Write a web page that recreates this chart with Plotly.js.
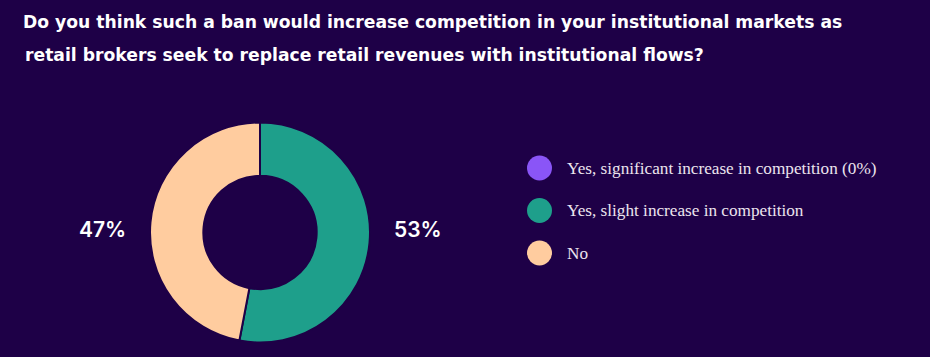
<!DOCTYPE html>
<html>
<head>
<meta charset="utf-8">
<script src="https://cdn.plot.ly/plotly-3.0.1.min.js"></script>
<style>html,body{margin:0;padding:0;background:#1e0047;}#chart{width:930px;height:357px;}</style>
</head>
<body>
<div id="chart"></div>
<script>
// ---- data ----
const titleLines = [
  "Do you think such a ban would increase competition in your institutional markets as",
  "retail brokers seek to replace retail revenues with institutional flows?"
];
const categories = [
  "Yes, significant increase in competition (0%)",
  "Yes, slight increase in competition",
  "No"
];
const values = [0, 53, 47];
const colors = ["#8a55f7", "#1e9f8b", "#ffcc9f"];

// ---- styles ----
const BG = "#1e0047";
const W = 930, H = 357;
const titleFont = { family: "'DejaVu Sans', sans-serif", size: 17.2, color: "#ffffff", weight: 700 };

const pieTrace = {
  type: "pie",
  labels: categories,
  values: values,
  sort: false,
  direction: "clockwise",
  rotation: 0,
  hole: 0.515,
  textinfo: "none",
  showlegend: false,
  hoverinfo: "label+percent",
  marker: { colors: colors, line: { color: BG, width: 2 } },
  domain: { x: [150 / W, 370 / W], y: [1 - 342.5 / H, 1 - 122.5 / H] }
};

// legend drawn as circle markers on a hidden axis
const idx = categories.map((_, i) => i);
const legendTrace = {
  type: "scatter",
  mode: "markers",
  x: idx.map(() => 0),
  y: idx,
  xaxis: "x",
  yaxis: "y",
  marker: { size: 25, color: colors },
  hoverinfo: "skip",
  showlegend: false,
  cliponaxis: false
};

const annotations = [];
// second title line
annotations.push({
  xref: "paper", yref: "paper", x: 23 / W, y: 1 - 55 / H,
  xanchor: "left", yanchor: "middle", showarrow: false,
  text: titleLines[1],
  font: titleFont
});
// legend labels
categories.forEach((c, i) => {
  annotations.push({
    xref: "x", yref: "y", x: 0, y: i, xshift: 25,
    xanchor: "left", yanchor: "middle", showarrow: false,
    text: c,
    font: { family: "'Liberation Serif', 'DejaVu Serif', serif", size: 17.2, color: "#ece4ee" }
  });
});
// percentage labels (green slice on right, peach slice on left)
const total = values.reduce((a, b) => a + b, 0);
const pctPos = { 1: 418 / W, 2: 102 / W };
values.forEach((v, i) => {
  if (v > 0) {
    annotations.push({
      xref: "paper", yref: "paper", x: pctPos[i], y: 1 - 229 / H,
      xanchor: "center", yanchor: "middle", showarrow: false,
      text: Math.round(v / total * 100) + "%",
      font: { family: "Inter, 'Open Sans', sans-serif", size: 21, color: "#ffffff", weight: 600 }
    });
  }
});

const layout = {
  width: W, height: H,
  paper_bgcolor: BG, plot_bgcolor: BG,
  margin: { l: 0, r: 0, t: 0, b: 0 },
  title: {
    text: titleLines[0],
    x: 23 / W, xanchor: "left", xref: "paper",
    y: 1 - 22 / H, yanchor: "middle", yref: "paper",
    font: titleFont
  },
  xaxis: { domain: [0, 1], range: [-539.5, W - 539.5], visible: false, fixedrange: true },
  yaxis: { domain: [0, 1], range: [(H - 168) / 42.5, -168 / 42.5], visible: false, fixedrange: true },
  annotations: annotations,
  showlegend: false
};

Plotly.newPlot("chart", [pieTrace, legendTrace], layout, { displayModeBar: false, staticPlot: true });
</script>
</body>
</html>
